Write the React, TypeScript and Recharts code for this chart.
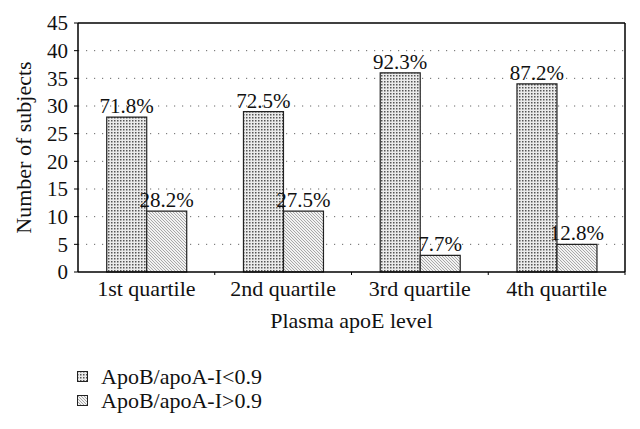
import React from 'react';
import { BarChart, Bar, XAxis, YAxis, CartesianGrid, ReferenceLine, LabelList, Legend } from 'recharts';

const categories = ['1st quartile', '2nd quartile', '3rd quartile', '4th quartile'];
const lowRatio = [28, 29, 36, 34];
const highRatio = [11, 11, 3, 5];
const lowLabels = ['71.8%', '72.5%', '92.3%', '87.2%'];
const highLabels = ['28.2%', '27.5%', '7.7%', '12.8%'];
const yTicks = [0, 5, 10, 15, 20, 25, 30, 35, 40, 45];
const seriesNames = ['ApoB/apoA-I<0.9', 'ApoB/apoA-I>0.9'];
const yTitle = 'Number of subjects';
const xTitle = 'Plasma apoE level';

const data = categories.map((c, i) => ({
  name: c,
  low: lowRatio[i],
  high: highRatio[i],
  lowLabel: lowLabels[i],
  highLabel: highLabels[i],
}));

const FONT = '"Liberation Serif", "DejaVu Serif", serif';

const XTick = (props: any) => {
  const { x, y, payload } = props;
  const off = payload && payload.offset ? payload.offset : 0;
  return (
    <g>
      <line x1={x + off} y1={y - 8} x2={x + off} y2={y - 5} stroke="#000" strokeWidth={1} />
      <text x={x} y={y + 16} textAnchor="middle" fontFamily={FONT} fontSize={22} fill="#111">
        {payload.value}
      </text>
    </g>
  );
};

const YTitle = (props: any) => {
  const vb = props.viewBox || {};
  const cx = vb.x + 31;
  const cy = vb.y + vb.height / 2;
  return (
    <text
      x={cx}
      y={cy}
      transform={`rotate(-90 ${cx} ${cy})`}
      textAnchor="middle"
      fontFamily={FONT}
      fontSize={22}
      fill="#111"
    >
      {yTitle}
    </text>
  );
};

const LegendContent = (props: any) => {
  const { payload } = props;
  return (
    <div style={{ fontFamily: FONT, fontSize: 22, color: '#111', height: 48 }}>
      {(payload || []).map((e: any, i: number) => (
        <div key={i} style={{ display: 'flex', alignItems: 'center', height: 24, lineHeight: '24px' }}>
          <svg width={12} height={12} style={{ marginRight: 12 }}>
            <rect x={0.5} y={0.5} width={10} height={10} fill={i === 0 ? 'url(#dots)' : 'url(#hatch)'} stroke="#222" strokeWidth={1} />
          </svg>
          <span>{e.value}</span>
        </div>
      ))}
    </div>
  );
};

export default function App() {
  return (
    <div style={{ position: 'absolute', left: 0, top: 0, background: '#fff' }}>
      <BarChart
        width={640}
        height={429}
        data={data}
        margin={{ top: 23, right: 14, bottom: 49, left: 0 }}
        barCategoryGap="21%"
        barGap={0}
      >
        <defs>
          <pattern id="dots" width="3" height="3" patternUnits="userSpaceOnUse">
            <rect width="3" height="3" fill="#ebebeb" />
            <rect x="0" y="0" width="1.5" height="1.5" fill="#555" />
          </pattern>
          <pattern id="hatch" width="3" height="3" patternUnits="userSpaceOnUse">
            <rect width="3" height="3" fill="#f2f2f2" />
            <path d="M-1,-1 L4,4 M-1,2 L1,4 M2,-1 L4,1" stroke="#888" strokeWidth="0.7" />
          </pattern>
        </defs>
        <CartesianGrid
          horizontal
          vertical={false}
          stroke="#666"
          strokeDasharray="1.2 6.8"
          horizontalValues={[5, 10, 15, 20, 25, 30, 35, 40]}
        />
        <XAxis
          dataKey="name"
          tick={<XTick />}
          tickLine={false}
          axisLine={{ stroke: '#000', strokeWidth: 1.5 }}
          interval={0}
          height={60}
          label={{ value: xTitle, position: 'insideBottom', offset: 4, style: { fontFamily: FONT, fontSize: 22, fill: '#111' } }}
        />
        <YAxis
          domain={[0, 45]}
          ticks={yTicks}
          interval={0}
          width={78}
          tickSize={4}
          tickMargin={6}
          axisLine={{ stroke: '#000', strokeWidth: 1.5 }}
          tickLine={{ stroke: '#000' }}
          tick={{ fontFamily: FONT, fontSize: 21, fill: '#111' }}
          label={<YTitle />}
        />
        <YAxis
          yAxisId="right"
          orientation="right"
          domain={[0, 45]}
          width={1}
          tick={false}
          tickLine={false}
          axisLine={{ stroke: '#000', strokeWidth: 1.5 }}
        />
        <ReferenceLine y={45} stroke="#000" strokeWidth={1.5} />
        <Bar dataKey="low" name={seriesNames[0]} fill="url(#dots)" stroke="#222" strokeWidth={1.2} isAnimationActive={false}>
          <LabelList dataKey="lowLabel" position="top" offset={4} style={{ fontFamily: FONT, fontSize: 21, fill: '#111' }} />
        </Bar>
        <Bar dataKey="high" name={seriesNames[1]} fill="url(#hatch)" stroke="#222" strokeWidth={1.2} isAnimationActive={false}>
          <LabelList dataKey="highLabel" position="top" offset={4} style={{ fontFamily: FONT, fontSize: 21, fill: '#111' }} />
        </Bar>
        <Legend
          content={<LegendContent />}
          layout="horizontal"
          verticalAlign="bottom"
          align="left"
          wrapperStyle={{ left: 77, top: 365, bottom: 'auto', width: 300 }}
        />
      </BarChart>
    </div>
  );
}
